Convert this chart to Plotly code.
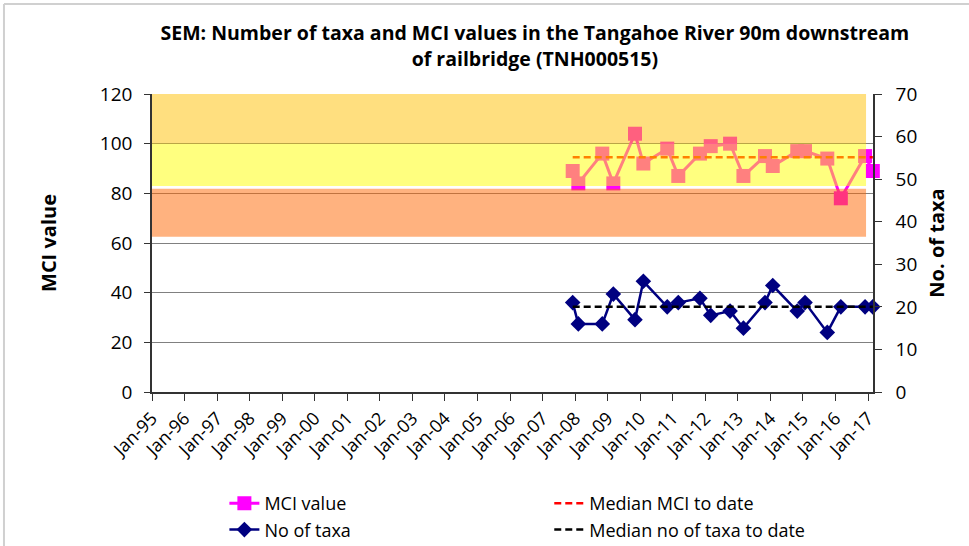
import numpy as np
import plotly.graph_objects as go

# Sampling dates for site TNH000515
sample_dates = [
    "2007-12-05", "2008-02-06", "2008-11-01", "2009-03-05", "2009-11-03",
    "2010-02-05", "2010-10-31", "2011-03-04", "2011-11-02", "2012-03-02",
    "2012-10-05", "2013-03-04", "2013-11-01", "2014-01-27", "2014-10-29",
    "2015-01-24", "2015-10-01", "2016-03-01", "2016-11-28", "2017-02-23",
]
mci_values = [89, 84, 96, 84, 104, 92, 98, 87, 96, 99,
              100, 87, 95, 91, 97, 97, 94, 78, 95, 89]
taxa_counts = [21, 16, 16, 23, 17, 26, 20, 21, 22, 18,
               19, 15, 21, 25, 19, 21, 14, 20, 20, 20]

# MCI quality bands (lower, upper, colour)
band_lower = [100, 83, 62.5]
band_upper = [120, 100, 81.8]
band_colors = ["#FFC000", "#FFFF00", "#FF6600"]
band_end_date = "2016-12-09"

x_start = "1995-01-01"
x_end = "2017-02-25"

median_mci = float(np.median(mci_values))
median_taxa = float(np.median(taxa_counts))

FONT = "Open Sans"

fig = go.Figure()

fig.add_trace(go.Scatter(
    x=sample_dates, y=mci_values, name="MCI value",
    mode="lines+markers",
    line=dict(color="#FF00FF", width=3),
    marker=dict(symbol="square", size=14, color="#FF00FF"),
    cliponaxis=False, legend="legend", legendgroup="a",
))
fig.add_trace(go.Scatter(
    x=sample_dates, y=taxa_counts, name="No of taxa",
    mode="lines+markers", yaxis="y2",
    line=dict(color="#000080", width=2.5),
    marker=dict(symbol="diamond", size=12, color="#000080"),
    cliponaxis=False, legend="legend", legendgroup="b",
))
fig.add_trace(go.Scatter(
    x=sample_dates, y=[median_mci] * len(sample_dates),
    name="Median MCI to date", mode="lines",
    line=dict(color="#FF0000", width=2.5, dash="7px,4px"),
    legend="legend2", legendgroup="c",
))
fig.add_trace(go.Scatter(
    x=sample_dates, y=[median_taxa] * len(sample_dates),
    name="Median no of taxa to date", mode="lines", yaxis="y2",
    line=dict(color="#000000", width=2.5, dash="7px,4px"),
    legend="legend2", legendgroup="d",
))

# translucent quality bands laid over the MCI series
for lo, hi, col in zip(band_lower, band_upper, band_colors):
    fig.add_shape(type="rect", xref="x", yref="y",
                  x0=x_start, x1=band_end_date, y0=lo, y1=hi,
                  fillcolor=col, opacity=0.5, line_width=0, layer="above")

# outer frame of the chart area
fig.add_shape(type="line", xref="paper", yref="paper",
              x0=-0.2053, x1=-0.2053, y0=-0.7, y1=1.302,
              line=dict(color="#D0D0D0", width=2))
fig.add_shape(type="line", xref="paper", yref="paper",
              x0=-0.2053, x1=1.2, y0=1.302, y1=1.302,
              line=dict(color="#D0D0D0", width=2))

fig.update_layout(
    width=969, height=546,
    margin=dict(l=152, r=96, t=94, b=154, autoexpand=False),
    paper_bgcolor="white", plot_bgcolor="white",
    font=dict(family=FONT, color="black", size=18),
    title=dict(
        text="<b>SEM: Number of taxa and MCI values in the Tangahoe River 90m downstream<br>of railbridge (TNH000515)</b>",
        x=0.552, xanchor="center", y=0.926, yanchor="top",
        font=dict(family=FONT, size=19.5),
    ),
    xaxis=dict(
        type="date", range=[x_start, x_end], automargin=False,
        tick0=x_start, dtick="M12", tickformat="%b-%y", tickangle=-45,
        ticks="outside", ticklen=7, tickcolor="#333",
        showline=True, linecolor="#333", linewidth=1.5,
        showgrid=False, zeroline=False,
        tickfont=dict(size=18),
    ),
    yaxis=dict(
        range=[0, 120], dtick=20, automargin=False,
        ticks="outside", ticklen=6, tickcolor="#333", ticklabelstandoff=8,
        showline=True, linecolor="#333", linewidth=1.5,
        showgrid=True, gridcolor="#808080", gridwidth=1, zeroline=False,
        tickfont=dict(size=19),
        title=dict(text="<b>MCI value</b>", font=dict(size=20), standoff=38),
    ),
    yaxis2=dict(
        range=[0, 70], dtick=10, overlaying="y", side="right", automargin=False,
        ticks="outside", ticklen=7, tickcolor="#333", ticklabelstandoff=10,
        showline=True, linecolor="#333", linewidth=1.5,
        showgrid=False, zeroline=False,
        tickfont=dict(size=19),
        title=dict(text="<b>No. of taxa</b>", font=dict(size=20), standoff=14),
    ),
    legend=dict(
        x=0.1004, y=-0.312, xanchor="left", yanchor="top",
        orientation="v", font=dict(size=18), tracegroupgap=0,
        bgcolor="rgba(0,0,0,0)",
    ),
    legend2=dict(
        x=0.551, y=-0.312, xanchor="left", yanchor="top",
        orientation="v", font=dict(size=18), tracegroupgap=0,
        bgcolor="rgba(0,0,0,0)",
    ),
)

fig.write_html("out.html")
